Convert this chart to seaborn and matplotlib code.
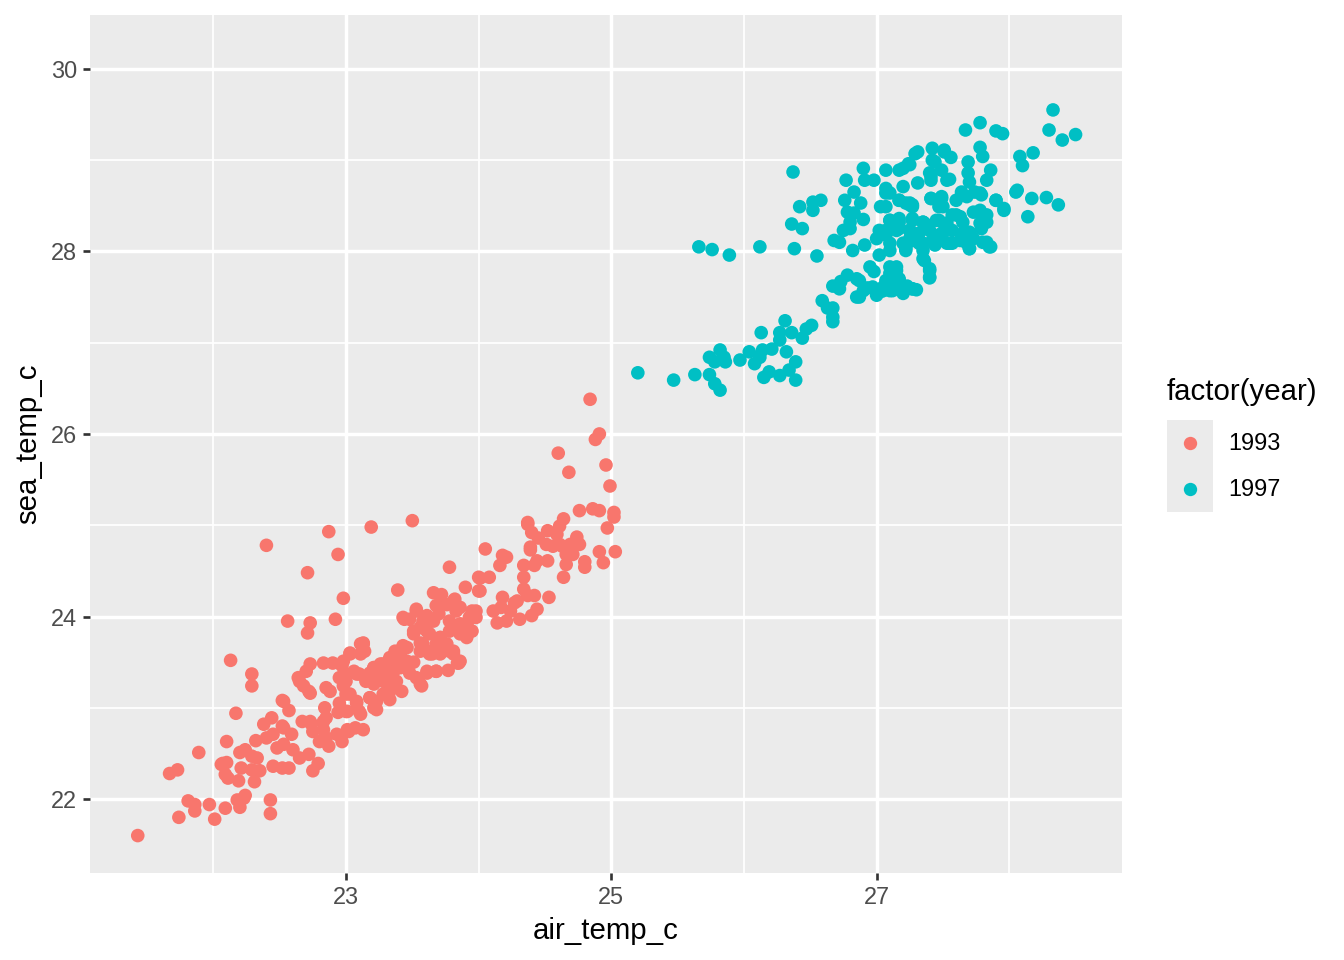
import matplotlib
matplotlib.use("Agg")
import matplotlib.pyplot as plt
from matplotlib.patches import Rectangle
import seaborn as sns
import pandas as pd

# ---------------- data ----------------
years = ["1993", "1997"]
colors = ["#F8766D", "#00BFC4"]

x_major = [23, 25, 27]
x_minor = [22, 24, 26, 28]
y_major = [22, 24, 26, 28, 30]
y_minor = [23, 25, 27, 29]

points_1993 = [
    (21.43, 21.60), (21.67, 22.28), (21.73, 22.32), (21.74, 21.80), (21.81, 21.98), (21.86, 21.94),
    (21.86, 21.87), (21.89, 22.51), (21.97, 21.94), (22.01, 21.78), (22.07, 22.39), (22.09, 21.90),
    (22.10, 22.63), (22.13, 23.52), (22.17, 22.94), (22.20, 21.91), (22.23, 22.01), (22.29, 23.24),
    (22.29, 23.37), (22.40, 24.78), (22.43, 21.99), (22.43, 21.84), (22.56, 23.95), (22.71, 24.48),
    (22.73, 23.93), (22.71, 23.82), (22.87, 24.93), (22.94, 24.68), (22.98, 24.20), (22.92, 23.97),
    (23.19, 24.98), (23.50, 25.05), (23.39, 24.29), (24.84, 26.38), (24.91, 26.00), (24.88, 25.94),
    (24.60, 25.79), (24.68, 25.58), (24.96, 25.66), (24.99, 25.43), (24.76, 25.16), (24.86, 25.18),
    (25.02, 25.14), (25.02, 25.09), (24.97, 24.97), (25.03, 24.71), (24.91, 24.71), (24.94, 24.59),
    (24.80, 24.60), (24.80, 24.54), (24.53, 24.21), (24.63, 24.77), (24.37, 25.03), (24.39, 24.76),
    (23.51, 23.50), (23.77, 23.41), (23.84, 23.49), (23.42, 23.18), (22.18, 21.99), (22.24, 22.04),
    (24.91, 25.16),
    (22.06, 22.38), (22.10, 22.40), (22.09, 22.27), (22.11, 22.23), (22.19, 22.20), (22.20, 22.51),
    (22.24, 22.54), (22.29, 22.47), (22.33, 22.45), (22.21, 22.34), (22.29, 22.32), (22.35, 22.31),
    (22.31, 22.19), (22.32, 22.64), (22.38, 22.82), (22.44, 22.89), (22.40, 22.67), (22.45, 22.71),
    (22.52, 22.80), (22.59, 22.71), (22.48, 22.56), (22.53, 22.60), (22.60, 22.54), (22.45, 22.36),
    (22.52, 22.34), (22.57, 22.34), (22.65, 22.45), (22.72, 22.49), (22.75, 22.31), (22.79, 22.39),
    (22.67, 22.85), (22.73, 22.85), (22.75, 22.74), (22.84, 23.00), (22.83, 22.85), (22.85, 22.67),
    (22.93, 22.71), (23.01, 22.76), (23.07, 22.78), (22.85, 23.22), (22.95, 23.33), (23.03, 23.59),
    (23.11, 23.70), (22.73, 23.48), (22.83, 23.49), (22.90, 23.49), (22.70, 23.40), (22.65, 23.29),
    (22.72, 23.18), (22.88, 23.18), (22.52, 23.08), (22.57, 22.97),
    (23.78, 24.54), (23.90, 24.32), (24.00, 24.43), (24.00, 24.28), (23.66, 24.26), (23.72, 24.24),
    (23.53, 24.08), (23.44, 23.97), (23.58, 23.95), (23.70, 24.03), (23.81, 24.17), (23.86, 24.10),
    (23.95, 24.06), (23.91, 23.92), (23.98, 23.99), (23.91, 23.81), (23.81, 23.62), (23.85, 23.49),
    (23.71, 23.77), (23.65, 23.59), (23.51, 23.84), (23.56, 23.71), (23.61, 23.62), (23.43, 23.68),
    (23.37, 23.62), (23.33, 23.55), (23.26, 23.48), (23.31, 23.40), (23.38, 23.29), (23.28, 23.29),
    (23.13, 23.71), (23.14, 23.62), (23.11, 23.59), (23.21, 23.44), (23.18, 23.33), (23.08, 23.37),
    (22.99, 23.37), (22.97, 23.46), (22.64, 23.33), (22.68, 23.24), (22.73, 23.16), (22.98, 23.24),
    (23.03, 23.15), (22.95, 23.05), (23.08, 23.05), (23.18, 23.11), (23.23, 22.98), (23.01, 22.96),
    (22.94, 22.95), (23.11, 22.93), (23.33, 23.09), (23.56, 23.26), (23.68, 23.40), (23.61, 23.38),
    (22.85, 22.89), (22.83, 22.76), (22.80, 22.63), (22.74, 22.82), (22.53, 23.07), (22.53, 22.78),
    (23.13, 22.76), (23.02, 22.74), (22.97, 22.63), (22.87, 22.58),
    (24.37, 25.01), (24.40, 24.92), (24.64, 25.07), (24.61, 24.99), (24.52, 24.94), (24.59, 24.90),
    (24.45, 24.86), (24.51, 24.79), (24.56, 24.77), (24.61, 24.79), (24.69, 24.79), (24.74, 24.87),
    (24.76, 24.79), (24.71, 24.68), (24.66, 24.68), (24.66, 24.57), (24.39, 24.73), (24.44, 24.61),
    (24.42, 24.56), (24.52, 24.61), (24.34, 24.56), (24.34, 24.43), (24.34, 24.30), (24.37, 24.23),
    (24.42, 24.23), (24.44, 24.08), (24.40, 24.01), (24.31, 23.97), (24.27, 24.15), (24.18, 24.21),
    (24.17, 24.10), (24.11, 24.06), (24.14, 23.93), (24.21, 23.95), (24.24, 24.06), (24.29, 24.17),
    (24.18, 24.67), (24.21, 24.65), (24.16, 24.56), (24.05, 24.74), (24.01, 24.42), (24.08, 24.43),
    (24.01, 24.28), (23.82, 24.19), (23.98, 24.06), (23.93, 23.99), (23.95, 23.84), (23.81, 23.88),
    (23.60, 23.93), (23.48, 23.97), (23.66, 23.95), (23.61, 23.84), (24.64, 24.43),
    (23.43, 23.99), (23.53, 24.06), (23.61, 24.01), (23.68, 24.12), (23.76, 24.13), (23.83, 24.06),
    (23.78, 23.95), (23.86, 23.92), (23.93, 23.97), (23.96, 24.03), (23.51, 23.81), (23.56, 23.88),
    (23.63, 23.81), (23.71, 23.77), (23.78, 23.84), (23.86, 23.81), (23.91, 23.77), (23.58, 23.70),
    (23.68, 23.70), (23.76, 23.70), (23.71, 23.59), (23.78, 23.62), (23.86, 23.51), (23.81, 23.59),
    (23.63, 23.59), (23.56, 23.62), (23.46, 23.66), (23.41, 23.59), (23.38, 23.51), (23.33, 23.53),
    (23.28, 23.48), (23.26, 23.40), (23.21, 23.44), (23.18, 23.38), (23.13, 23.70), (23.03, 23.60),
    (22.98, 23.51), (23.06, 23.40), (23.10, 23.37), (23.15, 23.29), (23.21, 23.26), (23.26, 23.33),
    (23.31, 23.37), (23.36, 23.40), (23.41, 23.44), (23.46, 23.48), (23.48, 23.38), (23.53, 23.33),
    (23.57, 23.24), (23.61, 23.40), (23.68, 23.40), (23.36, 23.26), (23.33, 23.18), (23.28, 23.15),
    (23.23, 23.07), (23.18, 23.11), (23.21, 23.00), (23.00, 23.29), (23.00, 23.15), (23.08, 23.07),
    (23.10, 22.96), (23.00, 22.96), (23.46, 23.51),
]

points_1997 = [
    (25.66, 28.05), (25.76, 28.02), (25.89, 27.96), (26.12, 28.05), (26.38, 28.03), (26.55, 27.95),
    (26.36, 28.30), (26.44, 28.25), (26.68, 28.12), (26.72, 28.10), (26.75, 28.23), (26.80, 28.25),
    (26.82, 28.01), (26.67, 27.62), (26.72, 27.59), (26.73, 27.67), (26.78, 27.74), (26.85, 27.70),
    (26.85, 27.50), (26.59, 27.46), (26.63, 27.38), (26.67, 27.38), (26.67, 27.28), (26.67, 27.23),
    (26.51, 27.19), (26.47, 27.15), (26.44, 27.05), (26.36, 27.11), (26.31, 27.24), (26.27, 27.11),
    (26.27, 27.03), (26.13, 27.11), (26.32, 26.90), (26.39, 26.79), (26.34, 26.70), (26.39, 26.59),
    (26.27, 26.64), (26.19, 26.68), (26.15, 26.62), (26.21, 26.93), (26.14, 26.92), (26.12, 26.84),
    (26.08, 26.77), (26.04, 26.90), (25.97, 26.81), (25.86, 26.79), (25.85, 26.84), (25.82, 26.92),
    (25.78, 26.79), (25.74, 26.84), (25.74, 26.65), (25.78, 26.55), (25.82, 26.48), (25.63, 26.65),
    (25.47, 26.59), (25.20, 26.67),
    (26.37, 28.87), (26.42, 28.49), (26.52, 28.54), (26.58, 28.56), (26.52, 28.45), (26.77, 28.78),
    (26.83, 28.65), (26.76, 28.56), (26.88, 28.53), (26.90, 28.91), (26.91, 28.78), (26.98, 28.78),
    (27.07, 28.89), (27.03, 28.49), (26.78, 28.43), (26.83, 28.42), (26.90, 28.35), (26.80, 28.32),
    (26.91, 28.07), (27.07, 28.69), (27.10, 28.64), (27.20, 28.71), (27.17, 28.89), (27.24, 28.96),
    (27.29, 29.07), (27.31, 29.09), (27.42, 29.13), (27.51, 29.09), (27.42, 29.00), (27.49, 28.89),
    (27.40, 28.86), (27.31, 28.75), (27.41, 28.78), (27.53, 28.78), (27.41, 28.58), (27.49, 28.58),
    (27.17, 28.56), (27.22, 28.53), (27.27, 28.49), (27.10, 28.34), (27.17, 28.32), (27.27, 28.34),
    (27.36, 28.31), (27.47, 28.34), (27.50, 28.49), (27.02, 28.23), (27.00, 28.14), (27.07, 28.20),
    (27.15, 28.23), (27.25, 28.23), (27.31, 28.16), (27.35, 28.09), (27.22, 28.05), (27.10, 28.01),
    (27.02, 27.96), (27.45, 28.12), (27.53, 28.09), (27.35, 27.92), (27.40, 27.81), (27.40, 27.72),
    (27.15, 27.83), (27.10, 27.76), (26.95, 27.83), (26.98, 27.78), (26.87, 27.68), (26.90, 27.57),
    (26.97, 27.61), (27.05, 27.61), (27.10, 27.57), (27.17, 27.61), (27.27, 27.59), (27.20, 27.54),
    (27.00, 27.52), (26.87, 27.50),
    (28.33, 29.55), (28.30, 29.33), (28.40, 29.22), (28.50, 29.28), (27.78, 29.41), (27.67, 29.33),
    (27.90, 29.32), (27.95, 29.29), (28.08, 29.04), (28.18, 29.08), (28.10, 28.94), (28.06, 28.67),
    (28.17, 28.58), (28.28, 28.59), (28.37, 28.51), (28.14, 28.38), (27.78, 29.14), (27.80, 29.04),
    (27.69, 28.98), (27.69, 28.86), (27.86, 28.89), (27.83, 28.78), (27.56, 29.03), (27.51, 29.11),
    (27.25, 28.95), (27.20, 28.91), (27.44, 28.98), (27.41, 28.82), (27.55, 28.79), (27.64, 28.65),
    (27.70, 28.76), (27.74, 28.65), (27.79, 28.62), (27.90, 28.56), (27.96, 28.45), (27.78, 28.43),
    (27.83, 28.32), (27.60, 28.40), (27.65, 28.32), (27.68, 28.21), (27.53, 28.25), (27.47, 28.18),
    (27.35, 28.32), (27.25, 28.51), (27.07, 28.18), (27.17, 28.25), (27.25, 28.14), (27.32, 28.10),
    (27.22, 28.03), (27.44, 28.07), (27.57, 28.09), (27.70, 28.03), (27.80, 28.10), (27.85, 28.05),
    (27.12, 27.81), (27.17, 27.70),
    (27.07, 28.64), (27.17, 28.56), (27.25, 28.53), (27.27, 28.51), (27.41, 28.58), (27.49, 28.60),
    (27.47, 28.49), (27.60, 28.56), (27.68, 28.60), (27.78, 28.64), (27.90, 28.56), (27.96, 28.47),
    (28.05, 28.65), (27.07, 28.49), (27.10, 28.34), (27.17, 28.36), (27.27, 28.36), (27.35, 28.32),
    (27.45, 28.34), (27.53, 28.31), (27.57, 28.40), (27.63, 28.38), (27.73, 28.43), (27.78, 28.45),
    (27.83, 28.40), (27.78, 28.31), (27.79, 28.25), (27.07, 28.23), (27.15, 28.25), (27.25, 28.23),
    (27.32, 28.20), (27.40, 28.23), (27.50, 28.21), (27.57, 28.23), (27.65, 28.20), (27.70, 28.21),
    (27.10, 28.09), (27.20, 28.09), (27.27, 28.12), (27.32, 28.09), (27.42, 28.12), (27.50, 28.12),
    (27.55, 28.09), (27.63, 28.12), (27.68, 28.09), (27.73, 28.14), (27.83, 28.10), (27.86, 28.05),
    (27.70, 28.03), (27.22, 28.01), (27.35, 28.01), (27.36, 27.90), (27.40, 27.79), (27.40, 27.71),
    (27.10, 27.83), (27.15, 27.79), (27.07, 27.68), (27.17, 27.68), (27.27, 27.59), (27.12, 27.57),
    (27.05, 27.57), (26.93, 27.60), (27.03, 27.56), (27.13, 27.63), (27.23, 27.62), (27.30, 27.58),
]

# ---------------- build frame ----------------
rows = []
for yr, pts in zip(years, [points_1993, points_1997]):
    for a, s in pts:
        rows.append({"air_temp_c": a, "sea_temp_c": s, "year": yr})
df = pd.DataFrame(rows)
palette = dict(zip(years, colors))

plt.rcParams["font.family"] = ["Liberation Sans", "DejaVu Sans"]

W, H = 1344, 960
fig = plt.figure(figsize=(7, 5), dpi=192)
ax = fig.add_axes([90 / W, 1 - 873 / H, (1122 - 90) / W, (873 - 15) / H])
ax.set_facecolor("#EBEBEB")

sns.scatterplot(data=df, x="air_temp_c", y="sea_temp_c", hue="year", palette=palette,
                s=26, linewidth=0, ax=ax, legend=False, zorder=3)

ax.set_xlim(21.07, 28.85)
ax.set_ylim(21.19, 30.59)
ax.set_xticks(x_major)
ax.set_xticks(x_minor, minor=True)
ax.set_yticks(y_major)
ax.set_yticks(y_minor, minor=True)
ax.grid(which="major", color="white", linewidth=1.3, zorder=0)
ax.grid(which="minor", color="white", linewidth=0.65, zorder=0)
ax.set_axisbelow(True)
for sp in ax.spines.values():
    sp.set_visible(False)
ax.tick_params(which="major", length=2.75, width=1.0, color="#333333",
               labelcolor="#4D4D4D", labelsize=8.8, pad=2.2)
ax.tick_params(which="minor", length=0)
ax.set_xlabel("air_temp_c", fontsize=11, color="black", labelpad=3)
ax.set_ylabel("sea_temp_c", fontsize=11, color="black", labelpad=3)

# ---------------- legend (ggplot style) ----------------
fig.text(1167 / W, 1 - 392 / H, "factor(year)", fontsize=11, ha="left", va="center")
key_top = 420
key_h = 46
for i, (yr, col) in enumerate(zip(years, colors)):
    top = key_top + i * key_h
    fig.patches.append(Rectangle((1167 / W, 1 - (top + key_h) / H), 46 / W, key_h / H,
                                 transform=fig.transFigure, facecolor="#EBEBEB",
                                 edgecolor="none", zorder=1))
    cy = 1 - (top + key_h / 2) / H
    fig.add_artist(plt.Line2D([1190 / W], [cy], marker="o", markersize=5.0,
                              markerfacecolor=col, markeredgewidth=0, linestyle="none",
                              transform=fig.transFigure, zorder=2))
    fig.text(1228 / W, cy, yr, fontsize=8.8, ha="left", va="center")

fig.savefig("out.png", dpi=192)
